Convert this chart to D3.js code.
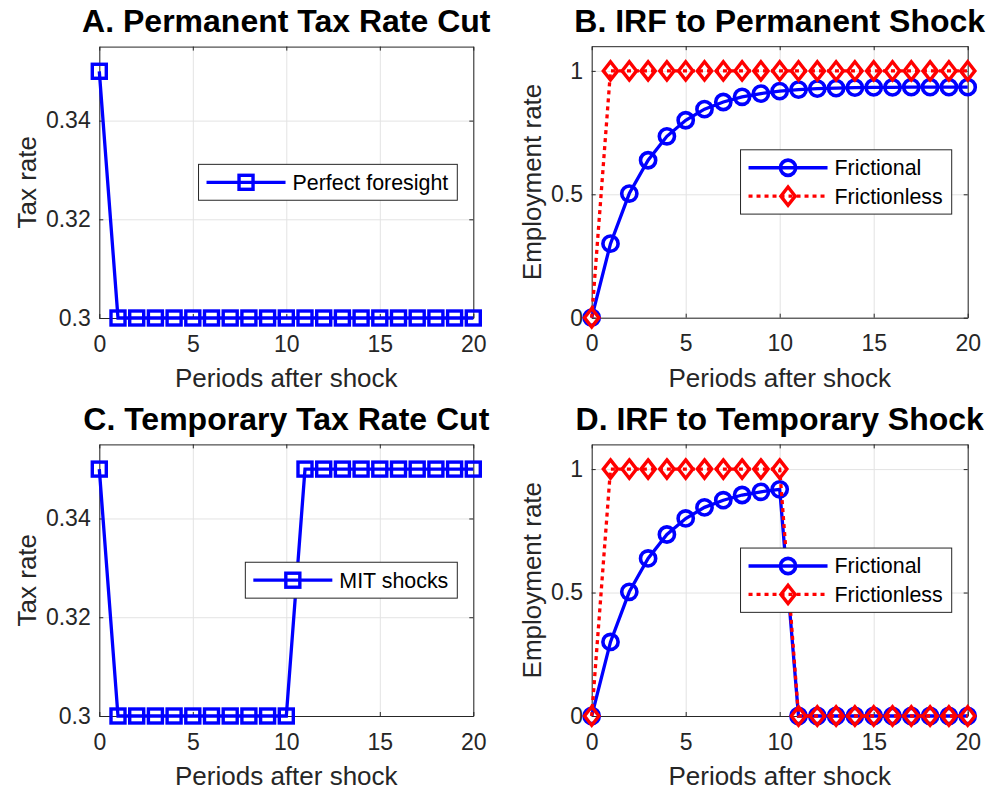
<!DOCTYPE html>
<html>
<head>
<meta charset="utf-8">
<script src="https://cdn.jsdelivr.net/npm/d3@7"></script>
<style>
body { margin: 0; background: #fff; }
text { font-family: "Liberation Sans", Arial, Helvetica, sans-serif; }
</style>
</head>
<body>
<div id="chart"></div>
<script>

// periods after the shock
var periods = [0,1,2,3,4,5,6,7,8,9,10,11,12,13,14,15,16,17,18,19,20];

// tax rate paths
var taxPermanent = [0.35,0.30,0.30,0.30,0.30,0.30,0.30,0.30,0.30,0.30,0.30,0.30,0.30,0.30,0.30,0.30,0.30,0.30,0.30,0.30,0.30];
var taxTemporary = [0.35,0.30,0.30,0.30,0.30,0.30,0.30,0.30,0.30,0.30,0.30,0.35,0.35,0.35,0.35,0.35,0.35,0.35,0.35,0.35,0.35];

// employment IRFs
var frictionalPermanent = [0,0.300,0.503,0.638,0.735,0.800,0.845,0.874,0.895,0.908,0.918,0.924,0.928,0.930,0.932,0.933,0.933,0.934,0.934,0.934,0.934];
var frictionlessPermanent = [0,1,1,1,1,1,1,1,1,1,1,1,1,1,1,1,1,1,1,1,1];
var frictionalTemporary = [0,0.300,0.503,0.638,0.735,0.800,0.845,0.874,0.895,0.908,0.918,0,0,0,0,0,0,0,0,0,0];
var frictionlessTemporary = [0,1,1,1,1,1,1,1,1,1,1,0,0,0,0,0,0,0,0,0,0];

var xTicks = [0,5,10,15,20];
var taxTicks = [0.3,0.32,0.34];
var empTicks = [0,0.5,1];

var axisColour = '#262626';
var gridColour = '#e3e3e3';

var svg = d3.select('#chart').append('svg')
    .attr('width', 989)
    .attr('height', 793);

function marker(g, type, colour) {
    if (type == 'square') {
        g.append('rect')
            .attr('x', -7).attr('y', -7)
            .attr('width', 14).attr('height', 14)
            .attr('fill', 'none').attr('stroke', colour).attr('stroke-width', 3.4);
    } else if (type == 'circle') {
        g.append('circle')
            .attr('r', 7.6)
            .attr('fill', 'none').attr('stroke', colour).attr('stroke-width', 3.6);
    } else {
        g.append('path')
            .attr('d', 'M0,-9.2L7.2,0L0,9.2L-7.2,0Z')
            .attr('fill', 'none').attr('stroke', colour).attr('stroke-width', 3.4)
            .attr('stroke-miterlimit', 10);
    }
}

function panel(box, title, ylabel, yDomain, yTicks, series) {
    var width = box.right - box.left,
        height = box.bottom - box.top;
    var g = svg.append('g')
        .attr('transform', `translate(${box.left},${box.top})`);

    var x = d3.scaleLinear().domain([0,20]).range([0,width]);
    var y = d3.scaleLinear().domain(yDomain).range([height,0]);

    // grid
    g.append('g')
        .attr('transform', `translate(0,${height})`)
        .call(d3.axisBottom(x).tickValues(xTicks).tickSize(-height).tickFormat(''))
        .call(a => a.select('.domain').remove())
        .selectAll('line').attr('stroke', gridColour);
    g.append('g')
        .call(d3.axisLeft(y).tickValues(yTicks).tickSize(-width).tickFormat(''))
        .call(a => a.select('.domain').remove())
        .selectAll('line').attr('stroke', gridColour);

    // axes, ticks inside on all four sides
    var xb = g.append('g')
        .attr('transform', `translate(0,${height})`)
        .call(d3.axisBottom(x).tickValues(xTicks).tickSizeInner(-4).tickSizeOuter(0).tickPadding(17.4).tickFormat(String));
    var yl = g.append('g')
        .call(d3.axisLeft(y).tickValues(yTicks).tickSizeInner(-4).tickSizeOuter(0).tickPadding(8.6).tickFormat(String));
    g.append('g')
        .call(d3.axisTop(x).tickValues(xTicks).tickSizeInner(-4).tickSizeOuter(0).tickFormat(''));
    g.append('g')
        .attr('transform', `translate(${width},0)`)
        .call(d3.axisRight(y).tickValues(yTicks).tickSizeInner(-4).tickSizeOuter(0).tickFormat(''));

    g.selectAll('.domain').attr('stroke', axisColour);
    g.selectAll('.tick line').filter(function () { return d3.select(this).attr('stroke') != gridColour; })
        .attr('stroke', axisColour);
    g.selectAll('.tick text')
        .attr('fill', axisColour)
        .style('font-size', '23px')
        .style('font-family', '"Liberation Sans", Arial, sans-serif');

    var maxTick = d3.max(yl.selectAll('text').nodes(), n => n.getBBox().width);

    // data
    series.forEach(function (s) {
        var line = d3.line().x((d,i) => x(periods[i])).y(d => y(d));
        g.append('path')
            .datum(s.values)
            .attr('d', line)
            .attr('fill', 'none')
            .attr('stroke', s.colour)
            .attr('stroke-width', 3.3)
            .attr('stroke-dasharray', s.dash ? '4,4' : null);
        g.selectAll(null)
            .data(s.values)
            .enter()
            .append('g')
            .attr('transform', (d,i) => `translate(${x(periods[i])},${y(d)})`)
            .each(function () { marker(d3.select(this), s.marker, s.colour); });
    });

    // title and labels
    g.append('text')
        .attr('x', width/2)
        .attr('y', -14.4)
        .attr('text-anchor', 'middle')
        .style('font-size', '32px')
        .style('font-weight', 'bold')
        .attr('fill', '#000')
        .text(title);
    g.append('text')
        .attr('x', width/2)
        .attr('y', height + 69.3)
        .attr('text-anchor', 'middle')
        .style('font-size', '26px')
        .attr('fill', axisColour)
        .text('Periods after shock');
    g.append('text')
        .attr('transform', `translate(${-8.6 - maxTick - 10},${height/2}) rotate(-90)`)
        .attr('text-anchor', 'middle')
        .style('font-size', '26px')
        .attr('fill', axisColour)
        .text(ylabel);

    // legend, east location
    var lg = g.append('g');
    var rowH = 28.4;
    var texts = [];
    series.forEach(function (s, i) {
        texts.push(lg.append('text')
            .attr('y', i*rowH)
            .attr('dy', '0.35em')
            .style('font-size', '21.4px')
            .attr('fill', '#000')
            .text(s.name));
    });
    var textW = d3.max(texts, t => t.node().getComputedTextLength());
    var boxW = 8 + 79 + 7 + textW + 9;
    var boxH = rowH*series.length + 7.5;
    var bx = width - 16 - boxW;
    var by = height/2 - boxH/2;
    lg.insert('rect', ':first-child')
        .attr('x', bx).attr('y', by)
        .attr('width', boxW).attr('height', boxH)
        .attr('fill', '#fff')
        .attr('stroke', axisColour)
        .attr('stroke-width', 1);
    series.forEach(function (s, i) {
        var cy = by + boxH/2 + (i - (series.length-1)/2)*rowH;
        lg.append('line')
            .attr('x1', bx + 8).attr('x2', bx + 87)
            .attr('y1', cy).attr('y2', cy)
            .attr('stroke', s.colour).attr('stroke-width', 3.3)
            .attr('stroke-dasharray', s.dash ? '4,4' : null);
        var m = lg.append('g').attr('transform', `translate(${bx + 47.5},${cy})`);
        marker(m, s.marker, s.colour);
        texts[i].attr('x', bx + 94).attr('y', cy);
    });
}

panel({left:99.3, right:473.3, top:46.6, bottom:318},
    'A. Permanent Tax Rate Cut', 'Tax rate', [0.3,0.355], taxTicks,
    [{name:'Perfect foresight', values:taxPermanent, colour:'#0000ff', marker:'square'}]);

panel({left:591.7, right:967.7, top:46.2, bottom:317.7},
    'B. IRF to Permanent Shock', 'Employment rate', [0,1.1], empTicks,
    [{name:'Frictional', values:frictionalPermanent, colour:'#0000ff', marker:'circle'},
     {name:'Frictionless', values:frictionlessPermanent, colour:'#ff0000', marker:'diamond', dash:true}]);

panel({left:99.3, right:473.3, top:444.4, bottom:716},
    'C. Temporary Tax Rate Cut', 'Tax rate', [0.3,0.355], taxTicks,
    [{name:'MIT shocks', values:taxTemporary, colour:'#0000ff', marker:'square'}]);

panel({left:591.7, right:967.7, top:444.4, bottom:716},
    'D. IRF to Temporary Shock', 'Employment rate', [0,1.1], empTicks,
    [{name:'Frictional', values:frictionalTemporary, colour:'#0000ff', marker:'circle'},
     {name:'Frictionless', values:frictionlessTemporary, colour:'#ff0000', marker:'diamond', dash:true}]);

</script>
</body>
</html>
